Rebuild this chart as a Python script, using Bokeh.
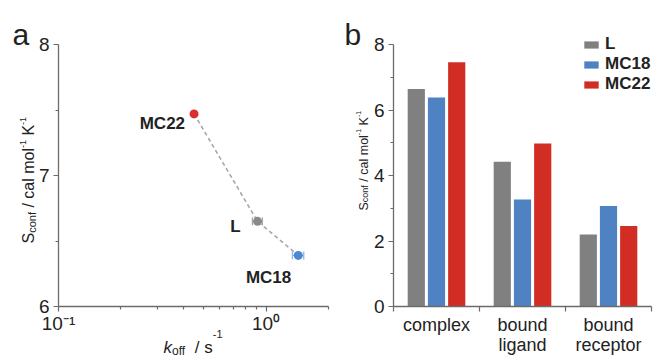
import math
import numpy as np
from bokeh.plotting import figure
from bokeh.layouts import row
from bokeh.models import (ColumnDataSource, Label, Whisker, TeeHead, FixedTicker,
                          Legend, LegendItem, Range1d, LinearAxis, LogAxis)
from bokeh.transform import dodge
from bokeh.embed import file_html
from bokeh.resources import INLINE

# ---------------- data ----------------
# panel a
compounds = ["L", "MC18", "MC22"]
koff = [0.91, 1.43, 0.45]           # s^-1
koff_err = [0.05, 0.09, 0.0]
sconf = [6.65, 6.39, 7.47]          # cal mol^-1 K^-1
sconf_err = [0.0, 0.0, 0.02]
xa_bounds = (0.1, 2.0)
x_major = [0.1, 1.0]
x_minor = [0.2, 0.3, 0.4, 0.5, 0.6, 0.7, 0.8, 0.9, 2.0]
x_tick_labels = ["10\u207b\u00b9", "10\u2070"]
ya_bounds = (6, 8)
ya_major = [6, 7, 8]
ya_minor = [6.5, 7.5]

# panel b
groups = ["complex", "bound\nligand", "bound\nreceptor"]
series = ["L", "MC18", "MC22"]
vals_L = [6.64, 4.42, 2.2]
vals_MC18 = [6.38, 3.27, 3.07]
vals_MC22 = [7.46, 4.98, 2.46]
yb_bounds = (0, 8)
yb_major = [0, 2, 4, 6, 8]
yb_minor = [1, 3, 5, 7]

# ---------------- layout / styles ----------------
H = 356
WA, WB = 330, 326
# plot box (pixels inside each canvas): left, right, top, bottom
BOX_A = (58, 328, 44, 306)
BOX_B = (63, 321, 44, 306)

FONT = "Liberation Sans"
AX = "#6b6b6b"
TXT = "#222222"
pt_colors = ["#8a8a8a", "#4d88cf", "#d8302a"]
err_colors = ["#a8a8a8", "#8fb6e4", "#e07a74"]
bar_colors = ["#808080", "#4f82c2", "#d12d25"]

W = {'S': 667, 'c': 500, 'o': 556, 'n': 556, 'f': 278, ' ': 278, '/': 278, 'a': 556,
     'l': 222, 'm': 833, '-': 333, '1': 556, 'K': 667, 'k': 500, 's': 500}


def tw(s, size):
    return sum(W.get(ch, 556) for ch in s) / 1000.0 * size


def lin_range(v0, v1, p0, p1, total):
    """range whose values v0,v1 fall on pixels p0,p1 of a canvas of `total` pixels"""
    k = (v1 - v0) / (p1 - p0)
    return Range1d(v0 - p0 * k, v0 + (total - p0) * k)


def run_text(p, pieces, ix, iy, rotated):
    """pieces placed one after another; ix, iy in canvas pixels from top-left"""
    pos = iy if rotated else ix
    sign = -1 if rotated else 1
    for text, size, rise, style in pieces:
        body = text.lstrip(" ")
        pos += sign * tw(text[:len(text) - len(body)], size)
        if rotated:
            lab = Label(x=ix - rise, y=H - pos, angle=math.pi / 2)
        else:
            lab = Label(x=pos, y=H - (iy - rise))
        lab.update(x_units="screen", y_units="screen", text=body, text_font=FONT,
                   text_font_size=f"{size}px", text_font_style=style, text_color=TXT,
                   text_align="left", text_baseline="alphabetic")
        p.add_layout(lab)
        pos += sign * tw(body, size)


def style_axis(ax):
    ax.axis_line_color = AX
    ax.axis_line_width = 1.3
    ax.major_tick_line_color = AX
    ax.minor_tick_line_color = AX
    ax.major_tick_line_width = 1.2
    ax.minor_tick_line_width = 1.2
    ax.major_tick_in = 0
    ax.minor_tick_in = 0
    ax.major_tick_out = 5
    ax.minor_tick_out = 3
    ax.major_label_text_font = FONT
    ax.major_label_text_font_size = "19px"
    ax.major_label_text_color = TXT


def make_fig(width, xr, yr, xtype="linear"):
    p = figure(width=width, height=H, x_axis_type=xtype, x_range=xr, y_range=yr,
               x_axis_location=None, y_axis_location=None,
               output_backend="svg", toolbar_location=None,
               min_border_left=0, min_border_right=0, min_border_top=0, min_border_bottom=0)
    p.grid.visible = False
    p.outline_line_color = None
    return p


# ---------------- panel a ----------------
l, r, t, b = BOX_A
lx0, lx1 = math.log10(xa_bounds[0]), math.log10(xa_bounds[1])
kx = (lx1 - lx0) / (r - l)
xr_a = Range1d(10 ** (lx0 - l * kx), 10 ** (lx0 + (WA - l) * kx))
yr_a = lin_range(ya_bounds[0], ya_bounds[1], H - b, H - t, H)
p1 = make_fig(WA, xr_a, yr_a, "log")

xa = LogAxis(fixed_location=ya_bounds[0], bounds=xa_bounds,
             ticker=FixedTicker(ticks=x_major, minor_ticks=x_minor))
style_axis(xa)
xa.major_label_overrides = {tk: s for tk, s in zip(x_major, x_tick_labels)}
xa.major_label_standoff = 1
p1.add_layout(xa, "below")
ya = LinearAxis(fixed_location=xa_bounds[0], bounds=ya_bounds,
                ticker=FixedTicker(ticks=ya_major, minor_ticks=ya_minor))
style_axis(ya)
ya.major_label_standoff = 4
p1.add_layout(ya, "left")

order = np.argsort(koff)
p1.line([koff[i] for i in order], [sconf[i] for i in order], line_color="#a8a8a8",
        line_width=1.6, line_dash="4 3")

for i in range(len(compounds)):
    if koff_err[i] > 0:
        src = ColumnDataSource(dict(b=[sconf[i]], lo=[koff[i] - koff_err[i]], hi=[koff[i] + koff_err[i]]))
        p1.add_layout(Whisker(source=src, base="b", lower="lo", upper="hi", dimension="width",
                              line_color=err_colors[i], line_width=1.3,
                              upper_head=TeeHead(size=8, line_color=err_colors[i], line_width=1.3),
                              lower_head=TeeHead(size=8, line_color=err_colors[i], line_width=1.3)))
    if sconf_err[i] > 0:
        src = ColumnDataSource(dict(b=[koff[i]], lo=[sconf[i] - sconf_err[i]], hi=[sconf[i] + sconf_err[i]]))
        p1.add_layout(Whisker(source=src, base="b", lower="lo", upper="hi", dimension="height",
                              line_color=err_colors[i], line_width=1.3,
                              upper_head=TeeHead(size=6, line_color=err_colors[i], line_width=1.3),
                              lower_head=TeeHead(size=6, line_color=err_colors[i], line_width=1.3)))

p1.scatter(koff, sconf, size=9, color=pt_colors, line_color=None)

lab_dx = [-17, -7, -9]
lab_dy = [-5, -22, -10]
for name, x, y, dx, dy in zip(compounds, koff, sconf, lab_dx, lab_dy):
    p1.add_layout(Label(x=x, y=y, x_offset=dx, y_offset=dy, text=name, text_font=FONT,
                        text_font_size="17px", text_font_style="bold", text_color=TXT,
                        text_align="right", text_baseline="middle"))

# axis titles (panel a)
run_text(p1, [("S", 16, 0, "normal"), ("conf", 11, -3, "normal"), (" / cal mol", 16, 0, "normal"),
              ("-1", 9, 6, "normal"), (" K", 16, 0, "normal"), ("-1", 9, 6, "normal")],
         28, 243, True)
run_text(p1, [("k", 17, 0, "italic"), ("off", 12, -3, "normal"), ("  / s", 17, 0, "normal"),
              ("-1", 11, 14, "normal")], 163, 347, False)
p1.add_layout(Label(x=12, y=H - 34, x_units="screen", y_units="screen", text="a", text_font=FONT,
                    text_font_size="30px", text_color=TXT, text_baseline="alphabetic"))

# ---------------- panel b ----------------
gx = (np.arange(len(groups)) + 0.5).tolist()
src_b = ColumnDataSource(dict(gx=gx, L=vals_L, MC18=vals_MC18, MC22=vals_MC22))

l, r, t, b = BOX_B
xr_b = lin_range(0, len(groups), l, r, WB)
yr_b = lin_range(yb_bounds[0], yb_bounds[1], H - b, H - t, H)
p2 = make_fig(WB, xr_b, yr_b)

xb = LinearAxis(fixed_location=yb_bounds[0], bounds=(0, len(groups)),
                ticker=FixedTicker(ticks=[], minor_ticks=list(range(len(groups) + 1))))
style_axis(xb)
xb.minor_tick_out = 5
p2.add_layout(xb, "below")
yb = LinearAxis(fixed_location=0, bounds=yb_bounds,
                ticker=FixedTicker(ticks=yb_major, minor_ticks=yb_minor))
style_axis(yb)
yb.major_label_standoff = 4
p2.add_layout(yb, "left")

offsets = [-0.235, 0.0, 0.235]
items = []
for s, off, col in zip(series, offsets, bar_colors):
    rr = p2.vbar(x=dodge("gx", off), top=s, width=0.2, source=src_b, fill_color=col,
                 line_color=None)
    items.append(LegendItem(label=s, renderers=[rr]))

leg = Legend(items=items, location=(252, H - 94), glyph_width=18, glyph_height=9,
             label_standoff=5, spacing=-1, padding=0, margin=0, label_height=18,
             border_line_color=None, background_fill_alpha=0,
             label_text_font=FONT, label_text_font_style="bold",
             label_text_font_size="17px", label_text_color=TXT)
p2.add_layout(leg)

for g, x in zip(groups, gx):
    p2.add_layout(Label(x=x, y=H - 314, y_units="screen", text=g, text_font=FONT,
                        text_font_size="18px", text_color=TXT, text_align="center",
                        text_baseline="top", text_line_height=1.0))

run_text(p2, [("S", 12.5, 0, "normal"), ("conf", 9, -1, "normal"), (" / cal mol", 12.5, 0, "normal"),
              ("-1", 7, 5, "normal"), (" K", 12.5, 0, "normal"), ("-1", 7, 5, "normal")],
         33, 210, True)
p2.add_layout(Label(x=14, y=H - 34, x_units="screen", y_units="screen", text="b", text_font=FONT,
                    text_font_size="30px", text_color=TXT, text_baseline="alphabetic"))

layout = row(p1, p2)
open("out.html", "w").write(file_html(layout, INLINE))
